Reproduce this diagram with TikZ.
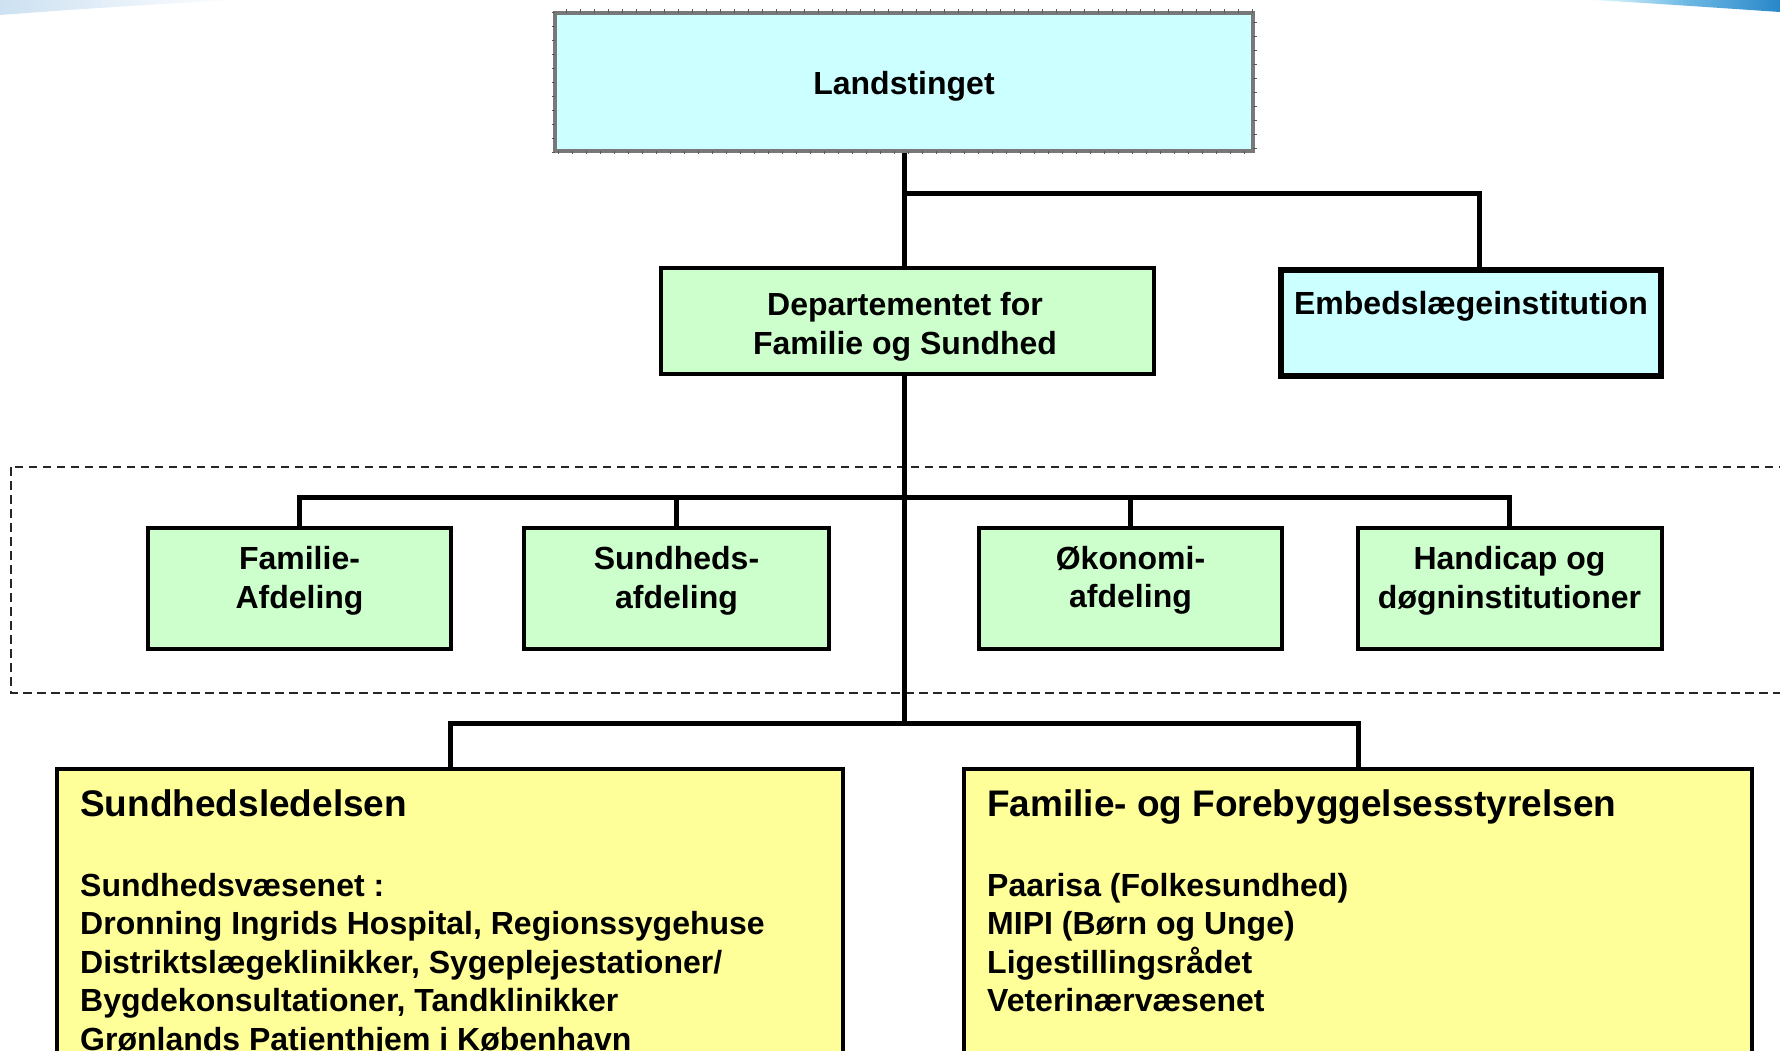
\documentclass[tikz,border=0pt]{standalone}
\usepackage{fontspec}
\setmainfont{Liberation Sans}
\definecolor{cyanfill}{RGB}{204,255,255}
\definecolor{greenfill}{RGB}{204,255,204}
\definecolor{yellowfill}{RGB}{255,255,153}
\definecolor{landborder}{RGB}{120,120,120}
\definecolor{swlight}{RGB}{205,225,242}
\definecolor{swdark}{RGB}{40,135,200}
\definecolor{swmid}{RGB}{110,185,228}
\tikzset{
  conn/.style={line width=5pt, black, line join=miter},
  cbox/.style={draw=black, fill=cyanfill, inner sep=0pt},
  gbox/.style={draw=black, fill=greenfill, line width=4pt, inner sep=0pt},
  ybox/.style={draw=black, fill=yellowfill, line width=4pt, inner sep=0pt},
  txt/.style={font=\bfseries\fontsize{32}{38.5}\selectfont, inner sep=0pt},
  ttl/.style={font=\bfseries\fontsize{37}{44}\selectfont, inner sep=0pt},
  groupframe/.style={line width=2pt, black!85, dash pattern=on 8.5pt off 5.5pt}
}
\begin{document}
\begin{tikzpicture}[x=1pt, y=-1pt]
\useasboundingbox (0,0) rectangle (1780,1051);
\fill[white] (0,0) rectangle (1780,1051);
\clip (0,0) rectangle (1780,1051);

% decorative swooshes
\shade[left color=swlight, right color=white]
  (0,0) -- (240,0) .. controls (170,3) and (80,9) .. (0,15) -- cycle;
\shade[left color=cyanfill!40, right color=swdark, middle color=swmid]
  (1590,0) -- (1780,0) -- (1780,12) .. controls (1720,8) and (1650,3) .. (1590,0) -- cycle;

% dashed group frame
\draw[groupframe] (11,467) rectangle (1800,693);

% boxes
\node[cbox, draw=landborder, line width=3.5pt, minimum width=698pt, minimum height=138pt] (land) at (904,82) {};
\draw[black!65, line width=3.5pt, dash pattern=on 1pt off 13pt] (land.south west) rectangle (land.north east);
\node[gbox, minimum width=493pt, minimum height=106pt] (dept) at (907.5,321) {};
\node[cbox, line width=6pt, minimum width=380pt, minimum height=106pt] (emb) at (1471,323) {};

\node[gbox, minimum width=303pt, minimum height=121pt] (fam) at (299.5,588) {};
\node[gbox, minimum width=305pt, minimum height=121pt] (sund) at (676.5,588) {};
\node[gbox, minimum width=303pt, minimum height=121pt] (oko) at (1130.5,588) {};
\node[gbox, minimum width=304pt, minimum height=121pt] (hand) at (1509.5,588) {};

\node[ybox, minimum width=786pt, minimum height=300pt] (sl) at (450,919) {};
\node[ybox, minimum width=788pt, minimum height=300pt] (fs) at (1358,919) {};

% junction coordinates
\coordinate (j1) at (904,194);
\coordinate (j2) at (1479,194);
\coordinate (h1) at (904,497);
\coordinate (h2) at (904,723);

% connectors
\draw[conn] (land.south) -- (land.south |- dept.north);
\draw[conn] (j1) -- (j2) -- (j2 |- emb.north);
\draw[conn] (dept.south -| j1) -- (h2);
\draw[conn] (fam.north) -- (fam.north |- h1) -- (hand.north |- h1) -- (hand.north);
\draw[conn] (sund.north) -- (sund.north |- h1);
\draw[conn] (oko.north) -- (oko.north |- h1);
\draw[conn] (sl.north) -- (sl.north |- h2) -- (fs.north |- h2) -- (fs.north);

% texts
\node[txt, anchor=base] (landT) at (904,95) {Landstinget};
\node[txt, anchor=north, align=center] (deptT) at (905,292.5) {Departementet for\\Familie og Sundhed};
\node[txt, anchor=base] (embT) at (1471,314) {Embedslægeinstitution};

\node[txt, anchor=north, align=center] (famT) at (299.5,546.5) {Familie-\\Afdeling};
\node[txt, anchor=north, align=center] (sundT) at (676.5,546.5) {Sundheds-\\afdeling};
\node[txt, anchor=north, align=center] (okoT) at (1130.5,546) {Økonomi-\\afdeling};
\node[txt, anchor=north, align=center] (handT) at (1509.5,546.5) {Handicap og\\døgninstitutioner};

\node[ttl, anchor=base west] (slT) at (80,816) {Sundhedsledelsen};
\node[txt, anchor=north west, align=left] (slB) at (80,873) {Sundhedsvæsenet :\\Dronning Ingrids Hospital, Regionssygehuse\\Distriktslægeklinikker, Sygeplejestationer/\\Bygdekonsultationer, Tandklinikker\\Grønlands Patienthjem i København};

\node[ttl, anchor=base west] (fsT) at (987,816) {Familie- og Forebyggelsesstyrelsen};
\node[txt, anchor=north west, align=left] (fsB) at (987,873) {Paarisa (Folkesundhed)\\MIPI (Børn og Unge)\\Ligestillingsrådet\\Veterinærvæsenet};
\end{tikzpicture}
\end{document}
